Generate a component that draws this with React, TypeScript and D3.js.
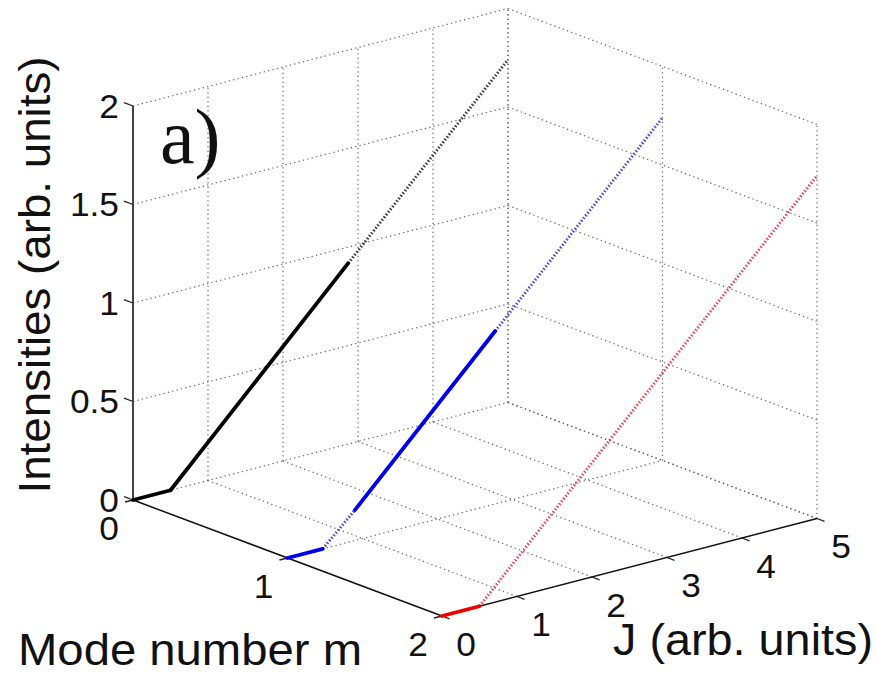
import React from "react";
import * as d3 from "d3";

// ---- data ----
const M_TICKS = [0, 1, 2];
const J_TICKS = [0, 1, 2, 3, 4, 5];
const Z_TICKS = [0, 0.5, 1, 1.5, 2];
const Z_TICK_LABELS = ["0", "0.5", "1", "1.5", "2"];

const mode0J = [0, 0.5, 2.87, 5];
const mode0I = [0, 0, 0.918, 1.74];
const mode0Solid = [true, true, false];

const mode1J = [0, 0.47, 0.9, 2.77, 5];
const mode1I = [0, 0, 0.155, 0.878, 1.74];
const mode1Solid = [true, false, true, false];

const mode2J = [0, 0.5, 5];
const mode2I = [0, 0, 1.74];
const mode2Solid = [true, false];

const MODES = [
  { m: 0, J: mode0J, I: mode0I, solid: mode0Solid, color: "#000000", dotColor: "#3a3a3a" },
  { m: 1, J: mode1J, I: mode1I, solid: mode1Solid, color: "#0000ee", dotColor: "#4b4bcc" },
  { m: 2, J: mode2J, I: mode2I, solid: mode2Solid, color: "#ee0000", dotColor: "#e04a5c" },
];

// ---- projection (oblique 3D view built from linear scales) ----
const X0 = 133;
const Y0 = 500;
const mX = d3.scaleLinear().domain([0, 2]).range([0, 309]);
const mY = d3.scaleLinear().domain([0, 2]).range([0, 116]);
const jX = d3.scaleLinear().domain([0, 5]).range([0, 375]);
const jY = d3.scaleLinear().domain([0, 5]).range([0, -97.5]);
const zY = d3.scaleLinear().domain([0, 2]).range([0, -394]);

const P = (m: number, j: number, z: number): [number, number] => [
  X0 + mX(m) + jX(j),
  Y0 + mY(m) + jY(j) + zY(z),
];

const line = d3.line<[number, number]>().x((d) => d[0]).y((d) => d[1]);

const FONT = "'Liberation Sans', Arial, Helvetica, sans-serif";
const SX = 1.07;

export default function App() {
  const grid: Array<[[number, number], [number, number]]> = [];
  J_TICKS.filter((j) => j > 0).forEach((j) => grid.push([P(0, j, 0), P(2, j, 0)]));
  M_TICKS.filter((m) => m < 2).forEach((m) => grid.push([P(m, 0, 0), P(m, 5, 0)]));
  Z_TICKS.filter((z) => z > 0).forEach((z) => grid.push([P(0, 0, z), P(0, 5, z)]));
  J_TICKS.filter((j) => j > 0).forEach((j) => grid.push([P(0, j, 0), P(0, j, 2)]));
  Z_TICKS.forEach((z) => grid.push([P(0, 5, z), P(2, 5, z)]));
  M_TICKS.forEach((m) => grid.push([P(m, 5, 0), P(m, 5, 2)]));

  const segs: Array<{ d: string; solid: boolean; color: string; dotColor: string }> = [];
  MODES.forEach((md) => {
    for (let i = 0; i < md.J.length - 1; i++) {
      const pts: [number, number][] = [P(md.m, md.J[i], md.I[i]), P(md.m, md.J[i + 1], md.I[i + 1])];
      segs.push({ d: line(pts) || "", solid: md.solid[i], color: md.color, dotColor: md.dotColor });
    }
  });

  const zTick = (z: number) => {
    const a = P(0, 0, z);
    return [a, [a[0] - 9, a[1] - 3.4]] as [number, number][];
  };
  const mTick = (m: number) => {
    const a = P(m, 0, 0);
    return [a, [a[0] - 8, a[1] + 2]] as [number, number][];
  };
  const jTick = (j: number) => {
    const a = P(2, j, 0);
    return [a, [a[0] + 7.5, a[1] + 2.8]] as [number, number][];
  };

  return (
    <svg
      width={876}
      height={679}
      style={{ position: "absolute", left: 0, top: 0, background: "#fff" }}
      fontFamily={FONT}
    >
      <rect width={876} height={679} fill="#fff" />
      {/* grid */}
      <g stroke="#666" strokeWidth={1.2} strokeDasharray="1.3 3.2" fill="none">
        {grid.map((g, i) => (
          <path key={i} d={line(g) || ""} />
        ))}
      </g>

      {/* axes */}
      <g fill="none">
        <path d={line([P(0, 0, 0), P(0, 0, 2)]) || ""} stroke="#444" strokeWidth={2} />
        <path d={line([P(0, 0, 0), P(2, 0, 0)]) || ""} stroke="#111" strokeWidth={1.5} />
        <path d={line([P(2, 0, 0), P(2, 5, 0)]) || ""} stroke="#111" strokeWidth={1.5} />
        {Z_TICKS.map((z, i) => (
          <path key={"zt" + i} d={line(zTick(z)) || ""} stroke="#222" strokeWidth={1.3} />
        ))}
        {M_TICKS.map((m, i) => (
          <path key={"mt" + i} d={line(mTick(m)) || ""} stroke="#222" strokeWidth={1.3} />
        ))}
        {J_TICKS.map((j, i) => (
          <path key={"jt" + i} d={line(jTick(j)) || ""} stroke="#222" strokeWidth={1.3} />
        ))}
      </g>

      {/* data */}
      <g fill="none" strokeLinecap="round">
        {segs
          .filter((s) => !s.solid)
          .map((s, i) => (
            <path key={"d" + i} d={s.d} stroke={s.dotColor} strokeWidth={3} strokeDasharray="1.5 1.9" strokeLinecap="butt" />
          ))}
        {segs
          .filter((s) => s.solid)
          .map((s, i) => (
            <path key={"s" + i} d={s.d} stroke={s.color} strokeWidth={3.8} />
          ))}
      </g>

      {/* tick labels */}
      <g fontSize={33} fill="#111">
        {Z_TICKS.map((z, i) => {
          const a = P(0, 0, z);
          return (
            <text key={"zl" + i} transform={`translate(${119},${a[1]}) scale(${SX},1)`} textAnchor="end" dy="0.36em">
              {Z_TICK_LABELS[i]}
            </text>
          );
        })}
        {M_TICKS.map((m, i) => {
          const a = P(m, 0, 0);
          return (
            <text key={"ml" + i} transform={`translate(${a[0] - 24},${a[1] + 28}) scale(${SX},1)`} textAnchor="middle" dy="0.36em">
              {String(m)}
            </text>
          );
        })}
        {J_TICKS.map((j, i) => {
          const a = P(2, j, 0);
          return (
            <text key={"jl" + i} transform={`translate(${a[0] + 24},${a[1] + 28}) scale(${SX},1)`} textAnchor="middle" dy="0.36em">
              {String(j)}
            </text>
          );
        })}
      </g>

      {/* axis labels */}
      <g fontSize={44} fill="#111">
        <text x={18} y={665} textLength={344} lengthAdjust="spacingAndGlyphs">
          Mode number m
        </text>
        <text x={613} y={655} textLength={260} lengthAdjust="spacingAndGlyphs">
          J (arb. units)
        </text>
        <text
          transform="translate(50,275) rotate(-90)"
          textAnchor="middle"
          textLength={437}
          lengthAdjust="spacingAndGlyphs"
        >
          Intensities (arb. units)
        </text>
      </g>

      <text x={160} y={163} fontSize={78} fontFamily="'Liberation Serif', 'Times New Roman', serif" fill="#111">
        a)
      </text>
    </svg>
  );
}
